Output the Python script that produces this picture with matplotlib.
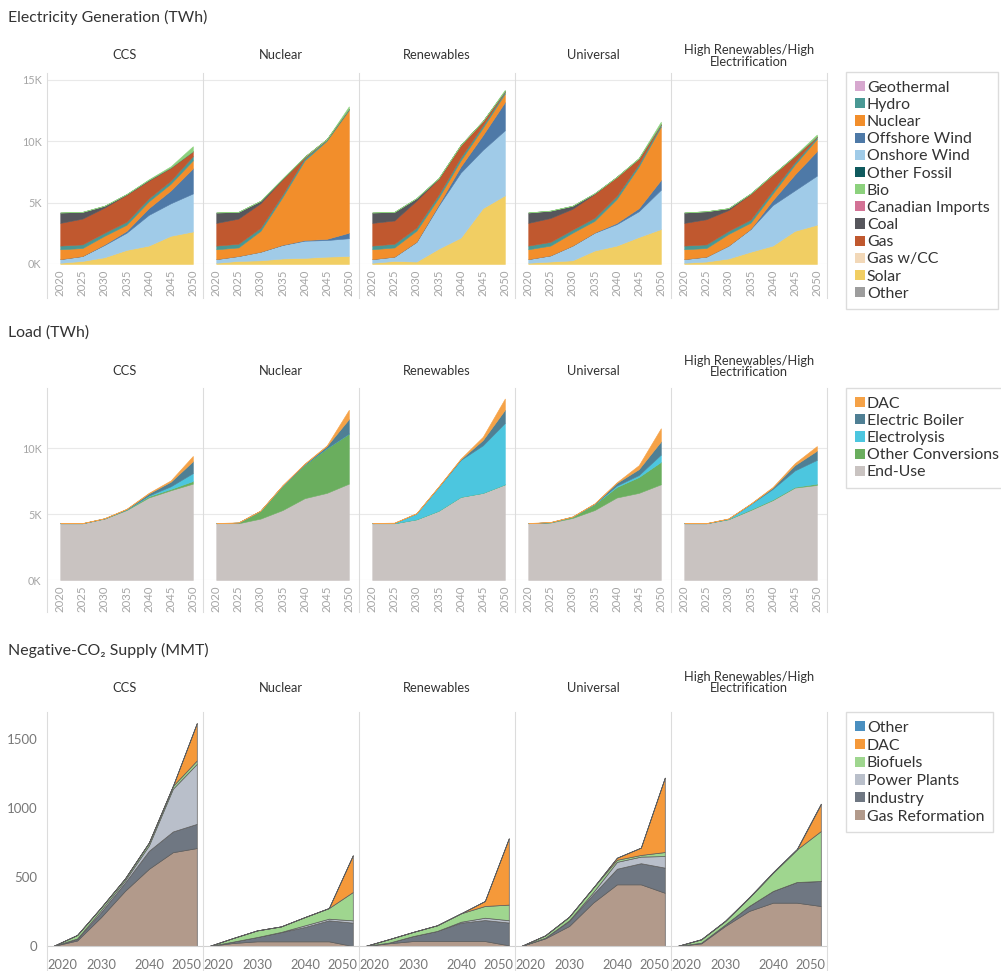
import matplotlib
matplotlib.use("Agg")
import matplotlib.pyplot as plt
from matplotlib.patches import Patch
from matplotlib.lines import Line2D
from matplotlib.transforms import ScaledTranslation

plt.rcParams['font.family'] = ['Lato', 'DejaVu Sans']

years = [2020, 2025, 2030, 2035, 2040, 2045, 2050]
scenarios = ['CCS', 'Nuclear', 'Renewables', 'Universal',
             'High Renewables/High\nElectrification']

# --- Electricity generation (TWh), one row per scenario ---
gen_solar    = [[100, 250, 550, 1150, 1500, 2300, 2650],
                [100, 250, 300, 450, 500, 600, 650],
                [100, 250, 200, 1250, 2150, 4550, 5600],
                [100, 200, 300, 1100, 1500, 2200, 2850],
                [100, 200, 450, 1000, 1500, 2700, 3200]]
gen_onshore  = [[300, 400, 1000, 1400, 2500, 2650, 3100],
                [300, 400, 700, 1100, 1400, 1350, 1450],
                [300, 350, 1600, 3500, 5300, 4750, 5300],
                [300, 500, 1200, 1450, 1750, 2100, 3200],
                [300, 400, 1050, 1850, 3300, 3300, 4000]]
gen_offshore = [[0, 0, 50, 150, 550, 1050, 2050],
                [0, 0, 0, 20, 50, 100, 450],
                [0, 0, 20, 100, 500, 1200, 2300],
                [0, 0, 0, 20, 100, 250, 800],
                [0, 0, 0, 20, 400, 1300, 2000]]
gen_nuclear  = [[800, 650, 700, 500, 550, 550, 650],
                [800, 700, 1700, 3900, 6500, 8000, 10000],
                [800, 750, 900, 550, 500, 600, 700],
                [800, 800, 1050, 950, 1950, 3400, 4350],
                [800, 700, 950, 500, 550, 800, 1000]]
gen_hydro    = [[300, 300, 250, 250, 250, 250, 350],
                [300, 300, 250, 200, 200, 100, 100],
                [300, 300, 250, 250, 250, 200, 150],
                [300, 300, 250, 250, 250, 200, 150],
                [300, 300, 250, 250, 250, 200, 150]]
gen_gas      = [[1850, 2100, 2050, 2200, 1450, 1050, 400],
                [1850, 2050, 2000, 1250, 100, 30, 0],
                [1850, 1900, 2200, 1300, 1000, 350, 50],
                [1850, 1950, 1700, 1950, 1550, 450, 50],
                [1850, 2050, 1700, 2100, 1300, 500, 50]]
gen_coal     = [[850, 550, 150, 50, 50, 20, 0],
                [850, 550, 200, 50, 0, 0, 0],
                [850, 700, 200, 50, 0, 0, 0],
                [850, 600, 250, 50, 0, 0, 0],
                [850, 650, 150, 30, 0, 0, 0]]
gen_bio      = [[0, 0, 0, 0, 50, 100, 400],
                [0, 0, 0, 0, 0, 0, 200],
                [0, 0, 0, 0, 0, 0, 100],
                [0, 0, 0, 0, 0, 50, 200],
                [0, 0, 0, 0, 0, 50, 150]]

# --- Load (TWh) ---
load_enduse   = [[4300, 4300, 4650, 5300, 6250, 6800, 7300],
                 [4300, 4300, 4650, 5300, 6200, 6600, 7300],
                 [4300, 4300, 4600, 5250, 6300, 6600, 7250],
                 [4300, 4350, 4700, 5300, 6250, 6600, 7250],
                 [4300, 4300, 4600, 5300, 6050, 7000, 7200]]
load_otherconv = [[0, 0, 20, 50, 100, 100, 200],
                  [0, 50, 600, 1850, 2550, 3400, 3800],
                  [0, 0, 0, 0, 0, 0, 0],
                  [0, 30, 100, 450, 800, 1200, 1700],
                  [0, 0, 20, 50, 50, 50, 100]]
load_electrolysis = [[0, 0, 0, 0, 50, 200, 600],
                     [0, 0, 0, 0, 0, 0, 0],
                     [0, 30, 450, 1800, 2800, 3600, 4650],
                     [0, 0, 0, 20, 100, 150, 550],
                     [0, 0, 30, 400, 800, 1250, 1800]]
load_boiler   = [[0, 0, 0, 30, 150, 350, 900],
                 [0, 0, 0, 20, 50, 150, 1100],
                 [0, 0, 0, 20, 50, 400, 1000],
                 [0, 0, 0, 20, 200, 450, 1000],
                 [0, 0, 0, 20, 100, 400, 700]]
load_dac      = [[20, 20, 20, 20, 50, 100, 400],
                 [20, 20, 20, 20, 30, 50, 700],
                 [20, 20, 20, 20, 50, 250, 850],
                 [20, 20, 20, 20, 50, 300, 1000],
                 [20, 20, 20, 20, 50, 150, 350]]

# --- Negative-CO2 supply (MMT) ---
neg_gasref   = [[0, 40, 210, 400, 560, 680, 710],
                [0, 22, 34, 34, 34, 34, 0],
                [0, 20, 36, 36, 36, 36, 5],
                [0, 55, 145, 314, 447, 447, 386],
                [0, 19, 145, 254, 314, 314, 290]]
neg_industry = [[0, 10, 35, 60, 130, 150, 175],
                [0, 10, 31, 66, 104, 152, 169],
                [0, 5, 36, 73, 133, 152, 165],
                [0, 5, 36, 60, 113, 153, 182],
                [0, 5, 10, 36, 85, 150, 181]]
neg_power    = [[0, 5, 15, 15, 40, 310, 435],
                [0, 0, 0, 2, 12, 12, 17],
                [0, 0, 0, 0, 7, 17, 17],
                [0, 0, 5, 15, 50, 48, 84],
                [0, 0, 0, 0, 0, 0, 0]]
neg_biofuels = [[0, 25, 20, 15, 20, 20, 25],
                [0, 26, 48, 40, 60, 77, 205],
                [0, 25, 30, 41, 61, 85, 113],
                [0, 17, 26, 33, 15, 12, 29],
                [0, 24, 26, 60, 132, 236, 362]]
neg_dac      = [[0, 0, 0, 0, 0, 0, 270],
                [0, 0, 0, 0, 0, 0, 266],
                [0, 0, 0, 0, 0, 36, 480],
                [0, 0, 0, 0, 15, 53, 539],
                [0, 0, 0, 0, 0, 0, 194]]
neg_other    = [[0, 0, 0, 0, 0, 0, 0],
                [0, 0, 0, 0, 0, 0, 0],
                [0, 0, 0, 0, 0, 0, 0],
                [0, 0, 0, 0, 0, 0, 0],
                [0, 2, 3, 4, 5, 5, 5]]

gen_colors = {
    'Geothermal': '#d7a8cf', 'Hydro': '#499894', 'Nuclear': '#f28e2b',
    'Offshore Wind': '#4e79a7', 'Onshore Wind': '#a0cbe8',
    'Other Fossil': '#0f5a5e', 'Bio': '#8cd17d', 'Canadian Imports': '#d37295',
    'Coal': '#56565c', 'Gas': '#c0582f', 'Gas w/CC': '#f2d8b8',
    'Solar': '#f1ce63', 'Other': '#9d9d9d'}
load_colors = {'DAC': '#f5a247', 'Electric Boiler': '#4f7f94',
               'Electrolysis': '#4cc6df', 'Other Conversions': '#6aae5e',
               'End-Use': '#c9c3c1'}
neg_colors = {'Other': '#4a8fc0', 'DAC': '#f5993a', 'Biofuels': '#9fd68f',
              'Power Plants': '#b9bfca', 'Industry': '#6f7782',
              'Gas Reformation': '#b29a8b'}

W, H = 1001, 971
fig = plt.figure(figsize=(W / 100, H / 100), dpi=100)

lefts = [47, 203, 359, 515, 671]
pw = 156
grid_c = '#e9e9e9'
sep_c = '#dcdcdc'


def add_ax(x0, top, bottom):
    return fig.add_axes([x0 / W, 1 - bottom / H, pw / W, (bottom - top) / H])


def vline(x, y0, y1):
    fig.add_artist(Line2D([x / W, x / W], [1 - y0 / H, 1 - y1 / H],
                          color=sep_c, lw=0.8, transform=fig.transFigure))


def legend(handles_spec, colors, top, spacing=0.18):
    hs = [Patch(facecolor=colors[n], edgecolor='none') for n in handles_spec]
    fig.legend(hs, handles_spec, loc='upper left',
               bbox_to_anchor=(846 / W, 1 - top / H), frameon=True,
               fancybox=False, edgecolor='#d4d4d4', fontsize=11.4,
               handlelength=0.62, handleheight=0.62, handletextpad=0.15,
               labelspacing=spacing, borderpad=0.55, borderaxespad=0,
               labelcolor='#333333')


def section_title(text, y):
    fig.text(8 / W, 1 - y / H, text, fontsize=11.4, color='#333333',
             va='center', ha='left')


def facet_titles(y, y2):
    # y: single-line titles, y2: the two-line last title
    for i, s in enumerate(scenarios):
        yy = y2 if '\n' in s else y
        fig.text((lefts[i] + pw / 2) / W, 1 - yy / H, s, ha='center',
                 va='center', fontsize=9.3, color='#333333', linespacing=0.9)


def style_top(ax, i, ymax, yticks, ylabels):
    ax.set_xlim(2017, 2052.3)
    ax.set_ylim(0, ymax)
    ax.set_xticks(years)
    ax.set_xticklabels([str(y) for y in years], rotation=90, fontsize=8.2,
                       color='#a5a5a5')
    ax.set_yticks(yticks)
    if i == 0:
        ax.set_yticklabels(ylabels, fontsize=7.8, color='#a5a5a5')
    else:
        ax.set_yticklabels([])
    ax.tick_params(length=0, pad=4)
    ax.grid(axis='y', color=grid_c, lw=0.8)
    ax.set_axisbelow(True)
    for sp in ax.spines.values():
        sp.set_visible(False)


# ---------- Section 1: Electricity generation ----------
section_title('Electricity Generation (TWh)', 17)
facet_titles(55, 56)
gen_order = [('Solar', gen_solar), ('Onshore Wind', gen_onshore),
             ('Offshore Wind', gen_offshore), ('Nuclear', gen_nuclear),
             ('Hydro', gen_hydro), ('Gas', gen_gas), ('Coal', gen_coal),
             ('Bio', gen_bio)]
for i in range(5):
    ax = add_ax(lefts[i], 73, 264)
    polys = ax.stackplot(years, *[s[i] for _, s in gen_order],
                         colors=[gen_colors[n] for n, _ in gen_order], lw=0.4)
    for p, (n, _) in zip(polys, gen_order):
        p.set_edgecolor(gen_colors[n])
    style_top(ax, i, 15570, [0, 5000, 10000, 15000],
              ['0K', '5K', '10K', '15K'])
for x in lefts + [lefts[-1] + pw]:
    vline(x, 73, 298)
legend(['Geothermal', 'Hydro', 'Nuclear', 'Offshore Wind', 'Onshore Wind',
        'Other Fossil', 'Bio', 'Canadian Imports', 'Coal', 'Gas', 'Gas w/CC',
        'Solar', 'Other'], gen_colors, 72, spacing=0.2)

# ---------- Section 2: Load ----------
section_title('Load (TWh)', 333)
facet_titles(371, 366)
load_order = [('End-Use', load_enduse), ('Other Conversions', load_otherconv),
              ('Electrolysis', load_electrolysis),
              ('Electric Boiler', load_boiler), ('DAC', load_dac)]
for i in range(5):
    ax = add_ax(lefts[i], 388, 580)
    polys = ax.stackplot(years, *[s[i] for _, s in load_order],
                         colors=[load_colors[n] for n, _ in load_order], lw=0.4)
    for p, (n, _) in zip(polys, load_order):
        p.set_edgecolor(load_colors[n])
    style_top(ax, i, 14550, [0, 5000, 10000], ['0K', '5K', '10K'])
for x in lefts + [lefts[-1] + pw]:
    vline(x, 388, 612)
legend(['DAC', 'Electric Boiler', 'Electrolysis', 'Other Conversions',
        'End-Use'], load_colors, 388, spacing=0.2)

# ---------- Section 3: Negative CO2 supply ----------
section_title('Negative-CO\u2082 Supply (MMT)', 650)
facet_titles(688, 682.5)
neg_order = [('Gas Reformation', neg_gasref), ('Industry', neg_industry),
             ('Power Plants', neg_power), ('Biofuels', neg_biofuels),
             ('DAC', neg_dac), ('Other', neg_other)]
for i in range(5):
    ax = add_ax(lefts[i], 712, 946)
    polys = ax.stackplot(years, *[s[i] for _, s in neg_order],
                         colors=[neg_colors[n] for n, _ in neg_order], lw=0.5)
    for p in polys:
        p.set_edgecolor('#5d5d5d')
    ax.set_xlim(2018.7, 2051.3)
    ax.set_ylim(0, 1696)
    ax.set_xticks([2020, 2030, 2040, 2050])
    ax.set_xticklabels(['2020', '2030', '2040', '2050'], fontsize=9.3,
                       color='#777777')
    ax.set_yticks([0, 500, 1000, 1500])
    if i == 0:
        ax.set_yticklabels(['0', '500', '1000', '1500'], fontsize=9.5,
                           color='#777777')
    else:
        ax.set_yticklabels([])
    ax.tick_params(length=0, pad=9)
    ax.tick_params(axis='y', pad=7)
    # Tableau pins the end labels to the pane edges
    xt = ax.get_xticklabels()
    xt[0].set_ha('left')
    xt[0].set_transform(xt[0].get_transform() +
                        ScaledTranslation(-0.06, 0, fig.dpi_scale_trans))
    xt[-1].set_ha('right')
    xt[-1].set_transform(xt[-1].get_transform() +
                         ScaledTranslation(0.05, 0, fig.dpi_scale_trans))
    for sp in ax.spines.values():
        sp.set_visible(False)
    ax.spines['bottom'].set_visible(True)
    ax.spines['bottom'].set_color('#d0d0d0')
for x in lefts + [lefts[-1] + pw]:
    vline(x, 712, 971)
legend(['Other', 'DAC', 'Biofuels', 'Power Plants', 'Industry',
        'Gas Reformation'], neg_colors, 712, spacing=0.24)

fig.savefig('out.png', dpi=100)
